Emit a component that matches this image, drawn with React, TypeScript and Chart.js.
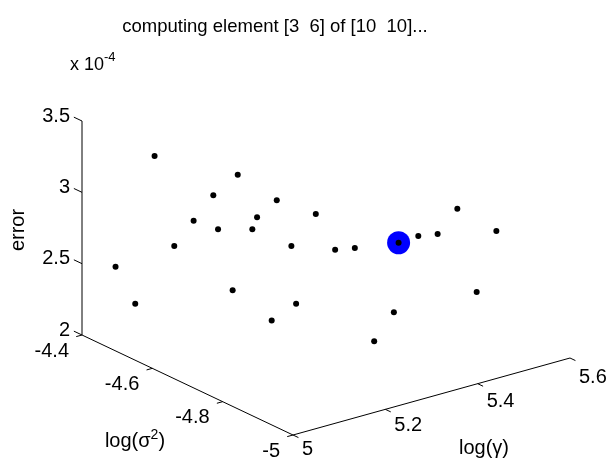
import { useEffect, useRef } from "react";
import { Chart, registerables } from "chart.js";

Chart.register(...registerables);

// ---- data -------------------------------------------------------------
// log(σ²) values of the grid columns (inner loop)
const sigmaGrid = [-4.956, -4.9, -4.845, -4.789, -4.734, -4.678, -4.623, -4.567, -4.512, -4.456];
// log(γ) values of the grid rows computed so far (outer loop)
const gammaGrid = [5.03, 5.252, 5.474];
// error (× 10^-4) of each computed grid element, one array per row
const errorRow1 = [3.246, 2.658, 3.234, 2.741, 3.342, 3.099, 2.857, 3.423, 2.323, 2.517];
const errorRow2 = [2.582, 2.314, 2.903, 2.826, 3.011, 2.318, 2.978, 2.793, 3.027, 2.58];
const errorRow3 = [2.952, 2.459, 2.978, 2.736, 2.657, 2.545];
const errorRows = [errorRow1, errorRow2, errorRow3];
const currentElement = [3, 6];
const gridSize = [10, 10];

// axes
const sigmaTicks = [-5, -4.8, -4.6, -4.4];
const gammaTicks = [5, 5.2, 5.4, 5.6];
const errorTicks = [2, 2.5, 3, 3.5];
const errorExponent = -4;
const sigmaLim = [-5, -4.4];
const gammaLim = [5, 5.6];
const errorLim = [2, 3.5];

// ---- view geometry (projected plot box, in view-plane units) -----------
const ORIGIN = { x: 293, y: 435 };
const DIR_SIGMA = { x: -211, y: -100 };
const DIR_GAMMA = { x: 277, y: -77 };
const DIR_ERROR = { x: 0, y: -214 };
const W = 610;
const H = 459;
const FONT = '"Liberation Sans", Arial, Helvetica, sans-serif';
const TICK_FS = 20;
const LABEL_FS = 20;
const TITLE_FS = 18.5;

function project(sig: number, gam: number, err: number) {
  const s = (sig - sigmaLim[0]) / (sigmaLim[1] - sigmaLim[0]);
  const g = (gam - gammaLim[0]) / (gammaLim[1] - gammaLim[0]);
  const e = (err - errorLim[0]) / (errorLim[1] - errorLim[0]);
  return {
    x: ORIGIN.x + s * DIR_SIGMA.x + g * DIR_GAMMA.x + e * DIR_ERROR.x,
    y: ORIGIN.y + s * DIR_SIGMA.y + g * DIR_GAMMA.y + e * DIR_ERROR.y,
  };
}

type Part = { t: string; sup?: boolean };

function drawParts(
  ctx: CanvasRenderingContext2D,
  parts: Part[],
  x: number,
  y: number,
  align: "left" | "center",
  fs: number,
  supFs: number,
  rise: number
) {
  const main = `${fs}px ${FONT}`;
  const small = `${supFs}px ${FONT}`;
  let total = 0;
  const widths = parts.map((p) => {
    ctx.font = p.sup ? small : main;
    const w = ctx.measureText(p.t).width;
    total += w;
    return w;
  });
  let cx = align === "center" ? x - total / 2 : x;
  ctx.textAlign = "left";
  ctx.textBaseline = "alphabetic";
  parts.forEach((p, i) => {
    ctx.font = p.sup ? small : main;
    ctx.fillText(p.t, cx, p.sup ? y - rise : y);
    cx += widths[i];
  });
}

const axes3dPlugin = {
  id: "axes3d",
  beforeDatasetsDraw(chart: any) {
    const ctx: CanvasRenderingContext2D = chart.ctx;
    const xs = chart.scales.x;
    const ys = chart.scales.y;
    const P = (a: number, b: number, c: number) => {
      const p = project(a, b, c);
      return { x: xs.getPixelForValue(p.x), y: ys.getPixelForValue(p.y) };
    };
    const unit = (a: any, b: any) => {
      const dx = b.x - a.x;
      const dy = b.y - a.y;
      const l = Math.hypot(dx, dy);
      return { x: dx / l, y: dy / l };
    };
    const line = (a: any, b: any) => {
      ctx.beginPath();
      ctx.moveTo(a.x, a.y);
      ctx.lineTo(b.x, b.y);
      ctx.stroke();
    };
    const o = P(sigmaLim[0], gammaLim[0], errorLim[0]);
    const uS = unit(o, P(sigmaLim[1], gammaLim[0], errorLim[0]));
    const uG = unit(o, P(sigmaLim[0], gammaLim[1], errorLim[0]));

    ctx.save();
    ctx.strokeStyle = "#000";
    ctx.fillStyle = "#000";
    ctx.lineWidth = 1;
    // axis lines
    line(P(sigmaLim[0], gammaLim[0], errorLim[0]), P(sigmaLim[1], gammaLim[0], errorLim[0]));
    line(P(sigmaLim[0], gammaLim[0], errorLim[0]), P(sigmaLim[0], gammaLim[1], errorLim[0]));
    line(P(sigmaLim[1], gammaLim[0], errorLim[0]), P(sigmaLim[1], gammaLim[0], errorLim[1]));

    ctx.font = `${TICK_FS}px ${FONT}`;
    ctx.textBaseline = "middle";
    // sigma ticks
    ctx.textAlign = "right";
    sigmaTicks.forEach((v) => {
      const p = P(v, gammaLim[0], errorLim[0]);
      line(p, { x: p.x - uG.x * 6, y: p.y - uG.y * 6 });
      ctx.fillText(String(v), p.x - 13, p.y + 16);
    });
    // gamma ticks
    ctx.textAlign = "left";
    gammaTicks.forEach((v) => {
      const p = P(sigmaLim[0], v, errorLim[0]);
      const f = (v - gammaLim[0]) / (gammaLim[1] - gammaLim[0]);
      line(p, { x: p.x - uS.x * 6, y: p.y - uS.y * 6 });
      ctx.fillText(String(v), p.x + 9, p.y + 14.5 + 5 * f);
    });
    // error ticks
    ctx.textAlign = "right";
    errorTicks.forEach((v) => {
      const p = P(sigmaLim[1], gammaLim[0], v);
      line(p, { x: p.x + uS.x * 9, y: p.y + uS.y * 9 });
      ctx.fillText(String(v), p.x - 12, p.y - 5);
    });

    // axis labels
    drawParts(ctx, [{ t: "log(σ" }, { t: "2", sup: true }, { t: ")" }], 135, 447, "center", LABEL_FS, 14, 8);
    drawParts(ctx, [{ t: "log(γ)" }], 484, 454, "center", LABEL_FS, 14, 8);
    drawParts(ctx, [{ t: "x 10" }, { t: String(errorExponent), sup: true }], 70, 70, "left", 18, 13, 9);
    ctx.save();
    ctx.translate(24, 230);
    ctx.rotate(-Math.PI / 2);
    ctx.font = `${LABEL_FS}px ${FONT}`;
    ctx.textAlign = "center";
    ctx.textBaseline = "alphabetic";
    ctx.fillText("error", 0, 0);
    ctx.restore();

    // title
    ctx.font = `${TITLE_FS}px ${FONT}`;
    ctx.textAlign = "center";
    ctx.textBaseline = "alphabetic";
    ctx.fillText(
      `computing element [${currentElement[0]}  ${currentElement[1]}] of [${gridSize[0]}  ${gridSize[1]}]...`,
      275,
      32
    );
    ctx.restore();
  },
};

export default function App() {
  const ref = useRef<HTMLCanvasElement>(null);
  useEffect(() => {
    if (!ref.current) return;
    const pts: { x: number; y: number }[] = [];
    errorRows.forEach((row, i) =>
      row.forEach((err, j) => pts.push(project(sigmaGrid[j], gammaGrid[i], err)))
    );
    const ci = currentElement[0] - 1;
    const cj = currentElement[1] - 1;
    const cur = project(sigmaGrid[cj], gammaGrid[ci], errorRows[ci][cj]);
    const chart = new Chart(ref.current, {
      type: "scatter",
      data: {
        datasets: [
          {
            data: pts,
            pointRadius: 3,
            pointBackgroundColor: "#000",
            pointBorderWidth: 0,
            order: 0,
          },
          {
            data: [cur],
            pointRadius: 11.5,
            pointBackgroundColor: "#0000ff",
            pointBorderWidth: 0,
            order: 1,
          },
        ],
      },
      options: {
        responsive: false,
        animation: false,
        events: [],
        layout: { padding: 0, autoPadding: false },
        plugins: { legend: { display: false }, tooltip: { enabled: false }, title: { display: false } },
        scales: {
          x: { type: "linear", min: 0, max: W, display: false },
          y: { type: "linear", min: 0, max: H, reverse: true, display: false },
        },
      },
      plugins: [axes3dPlugin],
    });
    return () => chart.destroy();
  }, []);
  return (
    <div style={{ position: "fixed", left: 0, top: 0, width: W, height: H, background: "#fff" }}>
      <canvas ref={ref} width={W} height={H} style={{ width: W, height: H, display: "block" }} />
    </div>
  );
}
